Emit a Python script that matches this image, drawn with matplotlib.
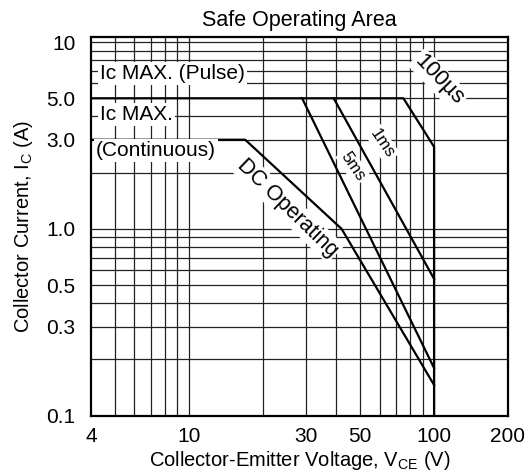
import matplotlib
matplotlib.use("Agg")
from matplotlib import pyplot as plt

plt.rcParams['font.family'] = ['Liberation Sans', 'DejaVu Sans']
plt.rcParams['mathtext.fontset'] = 'custom'
plt.rcParams['mathtext.rm'] = 'Liberation Sans'

# limits
pulse_x = [4, 75, 100, 100]
pulse_y = [5.0, 5.0, 2.75, 0.1]
dc_x = [4, 17, 42, 100]
dc_y = [3.0, 3.0, 1.0, 0.146]
ms5_x = [29, 100]
ms5_y = [5.0, 0.18]
ms1_x = [39, 100]
ms1_y = [5.0, 0.54]

xticks = [4, 10, 30, 50, 100, 200]
xlabels = ['4', '10', '30', '50', '100', '200']
yticks = [0.1, 0.3, 0.5, 1.0, 3.0, 5.0, 10]
ylabels = ['0.1', '0.3', '0.5', '1.0', '3.0', '5.0', '10']

fig = plt.figure(figsize=(5.28, 4.74), dpi=100)
ax = fig.add_axes([0.1723, 0.123, 0.7897, 0.7983])
ax.set_xscale('log')
ax.set_yscale('log')
ax.set_xlim(4, 200)
ax.set_ylim(0.1, 10.6)

# grid
gx = [5, 6, 7, 8, 9, 10, 20, 30, 40, 50, 60, 70, 80, 90, 100]
gy = [0.2, 0.3, 0.4, 0.5, 0.6, 0.7, 0.8, 0.9, 1, 2, 3, 4, 5, 6, 7, 8, 9, 10]
for v in gx:
    ax.axvline(v, color='#222222', lw=0.9, zorder=1)
for v in gy:
    ax.axhline(v, color='#222222', lw=0.9, zorder=1)

ax.plot(pulse_x, pulse_y, color='black', lw=1.6, zorder=3)
ax.plot(dc_x, dc_y, color='black', lw=1.6, zorder=3)
ax.plot(ms5_x, ms5_y, color='black', lw=1.6, zorder=3)
ax.plot(ms1_x, ms1_y, color='black', lw=1.6, zorder=3)

box = dict(facecolor='white', edgecolor='none', pad=1.5)
ax.text(4.35, 6.8, 'Ic MAX. (Pulse)', fontsize=15, ha='left', va='center', bbox=box, zorder=4)
ax.text(4.35, 4.1, 'Ic MAX.', fontsize=15, ha='left', va='center', bbox=box, zorder=4)
ax.text(4.2, 2.63, '(Continuous)', fontsize=15, ha='left', va='center', bbox=box, zorder=4)
ax.text(25.2, 1.3, 'DC Operating', fontsize=15.5, ha='center', va='center',
        rotation=-44, bbox=box, zorder=4)
ax.text(46.7, 2.16, '5ms', fontsize=12, ha='center', va='center',
        rotation=-56, bbox=box, zorder=4)
ax.text(61.6, 2.85, '1ms', fontsize=12, ha='center', va='center',
        rotation=-56, bbox=box, zorder=4)
ax.text(104.5, 6.28, '100µs', fontsize=16, ha='center', va='center',
        rotation=-46, bbox=box, zorder=4)

ax.set_xticks(xticks, xlabels)
ax.set_xticks([], minor=True)
ax.set_yticks(yticks, ylabels)
ax.set_yticks([], minor=True)
ax.tick_params(length=0, labelsize=15)
ax.tick_params(axis='x', pad=8)
ax.tick_params(axis='y', pad=11)

for s in ax.spines.values():
    s.set_linewidth(1.6)

ax.set_xlabel(r'Collector-Emitter Voltage, V$\mathregular{_{CE}}$ (V)', fontsize=14.5, labelpad=2)
ax.set_ylabel(r'Collector Current, I$\mathregular{_C}$ (A)', fontsize=14.5, labelpad=8)
ax.set_title('Safe Operating Area', fontsize=15.5, pad=8)

fig.savefig('out.png', dpi=100)
